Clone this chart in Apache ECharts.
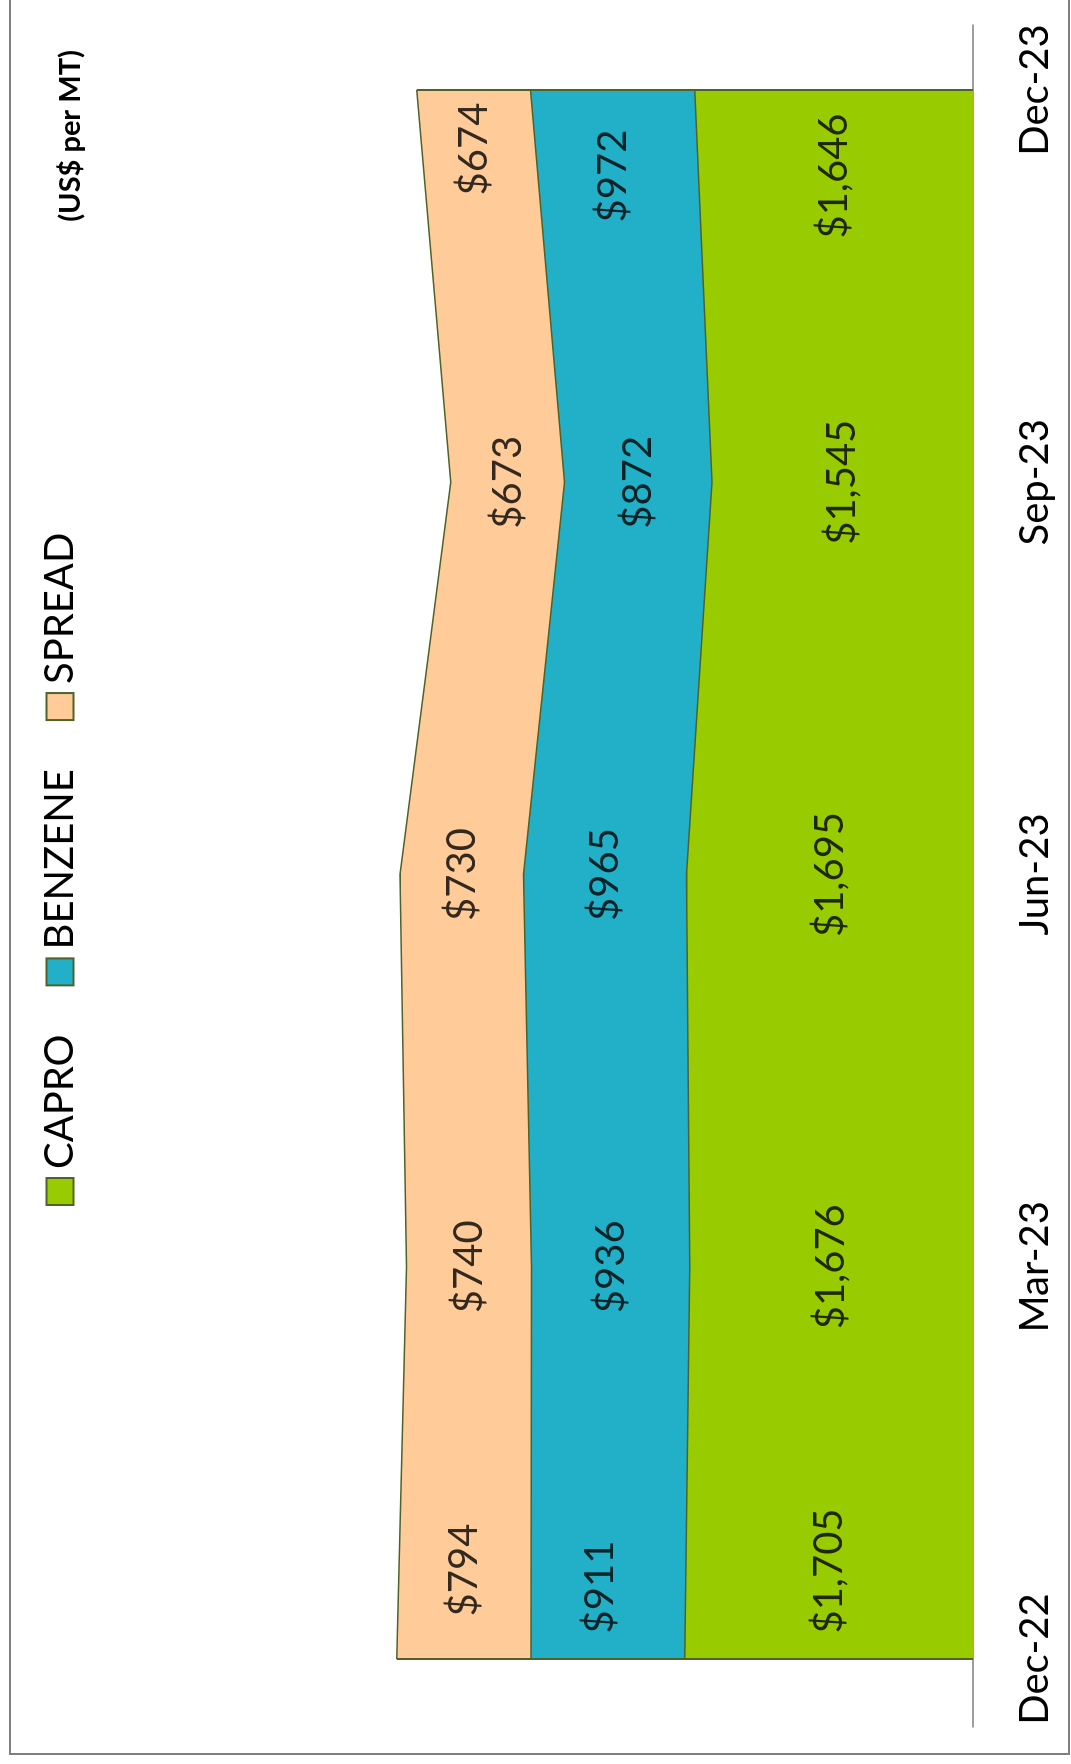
<!DOCTYPE html>
<html>
<head>
<meta charset="utf-8">
<title>CAPRO / BENZENE / SPREAD</title>
<script src="https://cdn.jsdelivr.net/npm/echarts@6/dist/echarts.min.js"></script>
<style>
  html, body { margin: 0; padding: 0; background: #fff; overflow: hidden; }
  .page { position: relative; width: 1071px; height: 1764px; overflow: hidden; }
  /* the chart is laid out landscape, then turned a quarter turn counter-clockwise */
  .rotated {
    position: absolute; left: 0; top: 0;
    width: 1764px; height: 1071px;
    transform-origin: 0 0;
    transform: translate(0, 1764px) rotate(-90deg);
  }
  .frame {
    position: absolute; left: 9px; top: 9px;
    width: 1800px; height: 1061px;
    border: 2px solid #7f7f7f; box-sizing: border-box;
  }
  #chart { position: absolute; left: 0; top: 0; width: 1764px; height: 1071px; }
</style>
</head>
<body>
<div class="page">
  <div class="rotated">
    <div class="frame"></div>
    <div id="chart"></div>
  </div>
</div>
<script>
// data (US$ per MT)
const months = ['Dec-22', 'Mar-23', 'Jun-23', 'Sep-23', 'Dec-23'];
const capro = [1705, 1676, 1695, 1545, 1646];
const benzene = [911, 936, 965, 872, 972];
const spread = [794, 740, 730, 673, 674];

// label nudges for the end points (pixels)
const caproOffsets = [[88, 0], [0, 0], [0, 0], [0, 0], [-86, 0]];
const benzeneOffsets = [[72, -8], [0, 0], [0, 0], [0, 0], [-86, 0]];
const spreadOffsets = [[89, 0], [0, 0], [0, 0], [0, 0], [-59, 0]];

const FONT = 'Lato';
const EDGE = '#4F6228';

// midpoints of each band so labels sit in the middle
const caproMid = capro.map(v => v / 2);
const benzeneMid = capro.map((c, i) => c + benzene[i] / 2);
const spreadMid = capro.map((c, i) => c + benzene[i] + spread[i] / 2);
const totals = capro.map((c, i) => c + benzene[i] + spread[i]);

const fmt = v => '$' + v.toLocaleString('en-US');

function areaSeries(name, values, color) {
  return {
    name: name,
    type: 'line',
    stack: 'total',
    xAxisIndex: 0,
    yAxisIndex: 0,
    data: values,
    symbol: 'none',
    showSymbol: false,
    lineStyle: { color: EDGE, width: 1.5 },
    itemStyle: { color: color },
    areaStyle: { color: color, opacity: 1 },
    emphasis: { disabled: true }
  };
}

function labelSeries(name, mids, values, offsets) {
  return {
    name: name + ' label',
    type: 'scatter',
    xAxisIndex: 0,
    yAxisIndex: 0,
    symbolSize: 0.1,
    itemStyle: { color: 'rgba(0,0,0,0)' },
    silent: true,
    z: 5,
    label: {
      show: true,
      position: 'inside',
      color: '#000',
      textBorderWidth: 0,
      fontFamily: FONT,
      fontSize: 40,
      formatter: p => fmt(values[p.dataIndex])
    },
    data: mids.map((v, i) => ({ value: [i, v], label: { offset: offsets[i] } }))
  };
}

const chart = echarts.init(document.getElementById('chart'));

const last = months.length - 1;
const spreadLabels = labelSeries('SPREAD', spreadMid, spread, spreadOffsets);
// outline the two end edges of the stack, like the original
spreadLabels.markLine = {
  silent: true,
  symbol: ['none', 'none'],
  label: { show: false },
  lineStyle: { color: EDGE, width: 2, type: 'solid' },
  data: [
    [{ coord: [0, 0] }, { coord: [0, totals[0]] }],
    [{ coord: [last, 0] }, { coord: [last, totals[last]] }]
  ]
};

const option = {
  animation: false,
  title: {
    text: '(US$ per MT)',
    right: 50,
    top: 56,
    padding: 0,
    textStyle: { fontFamily: FONT, fontWeight: 'bold', fontSize: 29, color: '#000' }
  },
  legend: {
    data: ['CAPRO', 'BENZENE', 'SPREAD'],
    left: 558,
    top: 40,
    padding: 0,
    icon: 'rect',
    itemWidth: 27,
    itemHeight: 27,
    itemGap: 48,
    itemStyle: { borderColor: EDGE, borderWidth: 2 },
    textStyle: { fontFamily: FONT, fontSize: 40, color: '#000', padding: [0, 0, 0, 4] }
  },
  grid: [
    { left: 105, right: 90, top: 128, bottom: 98 },
    { left: 37, right: 25, top: 128, bottom: 98 }
  ],
  xAxis: [
    {
      type: 'category',
      gridIndex: 0,
      data: months,
      boundaryGap: false,
      axisLine: { show: false },
      axisTick: { show: false },
      splitLine: { show: false },
      axisLabel: { fontFamily: FONT, fontSize: 40, color: '#000', margin: 42, interval: 0 }
    },
    {
      type: 'category',
      gridIndex: 1,
      data: months,
      boundaryGap: false,
      axisLine: { show: true, lineStyle: { color: '#7f7f7f', width: 1.5 } },
      axisTick: { show: false },
      axisLabel: { show: false },
      splitLine: { show: false }
    }
  ],
  yAxis: [
    { type: 'value', gridIndex: 0, min: 0, max: 5000, show: false },
    { type: 'value', gridIndex: 1, min: 0, max: 5000, show: false }
  ],
  series: [
    areaSeries('CAPRO', capro, '#99CC00'),
    areaSeries('BENZENE', benzene, '#22B0C8'),
    areaSeries('SPREAD', spread, '#FFCC99'),
    labelSeries('CAPRO', caproMid, capro, caproOffsets),
    labelSeries('BENZENE', benzeneMid, benzene, benzeneOffsets),
    spreadLabels
  ]
};

chart.setOption(option);
</script>
</body>
</html>
